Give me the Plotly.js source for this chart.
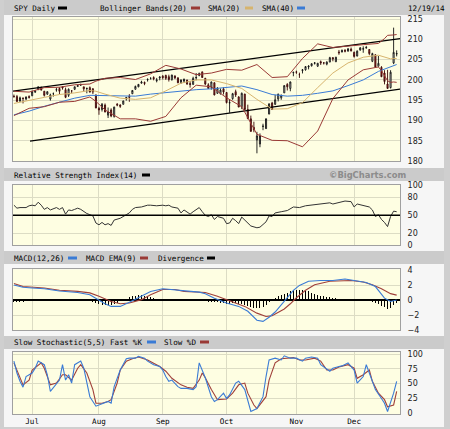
<!DOCTYPE html>
<html>
<head>
<meta charset="utf-8">
<script src="https://cdn.plot.ly/plotly-3.0.1.min.js"></script>
<style>
  html, body { margin: 0; padding: 0; background: #f6f6f6; }
  #chart { width: 450px; height: 429px; }
</style>
</head>
<body>
<div id="chart"></div>
<script>
// ---------- Data (SPY daily, 23 Jun 2014 - 19 Dec 2014; trading-day index 0..126) ----------
const monthIdx   = [6, 28, 49, 70, 93, 112];
const monthNames = ['Jul', 'Aug', 'Sep', 'Oct', 'Nov', 'Dec'];

const open = [196.0,195.9,194.8,195.5,195.3,195.9,196.1,197.0,197.6,198.2,197.2,196.5,195.3,196.6,197.5,197.9,198.3,197.6,196.2,197.3,
  197.7,198.4,198.8,198.3,197.9,198.1,197.8,196.3,193.0,192.7,193.8,191.3,192.6,191.0,194.0,193.8,194.0,195.3,196.0,196.6,
  197.7,198.3,199.2,199.4,200.0,200.3,200.6,199.8,200.5,200.9,201.1,200.8,200.1,201.0,200.5,199.4,199.7,200.0,199.1,198.9,
  200.5,201.1,202.0,200.4,198.8,198.2,199.3,196.7,196.6,197.8,196.9,194.3,195.4,197.1,195.8,193.4,196.5,192.7,190.4,188.3,
  185.2,184.2,188.5,188.0,191.6,194.3,194.0,195.3,195.6,196.8,198.9,197.9,201.8,202.0,201.3,202.3,202.5,203.2,203.5,204.1,
  203.4,204.5,204.2,203.9,204.4,205.5,204.5,206.9,206.9,207.3,207.1,207.6,206.8,205.9,207.4,207.6,207.9,207.5,204.6,206.2,
  203.4,203.1,201.7,199.0,198.1,204.2,206.4];
const high = [196.4,196.3,195.9,195.7,195.9,196.2,197.4,197.5,198.4,198.3,197.3,197.2,196.6,196.9,198.1,198.2,198.4,198.1,197.9,197.5,
  198.4,198.8,199.1,198.3,198.1,198.4,198.0,196.4,193.4,194.3,194.2,193.2,193.0,193.4,194.3,194.0,194.9,195.8,196.5,197.5,
  198.6,199.0,199.8,199.6,200.4,200.7,200.9,200.5,200.9,201.2,201.3,201.3,201.3,201.1,200.7,200.1,200.3,200.0,199.7,200.8,
  201.7,201.8,202.0,200.5,199.2,199.6,199.4,198.2,197.9,198.2,197.0,195.1,196.8,197.6,196.0,196.9,196.6,193.9,191.2,189.7,
  187.2,186.8,189.2,190.5,194.2,194.6,196.3,196.6,196.4,198.7,199.2,199.6,201.9,202.3,201.8,202.7,203.4,203.6,204.1,204.4,
  204.2,204.8,204.4,204.6,205.7,205.6,205.7,207.4,207.5,207.6,207.8,208.0,207.0,207.3,208.1,208.3,208.4,207.6,206.7,206.3,
  205.9,203.4,202.4,202.5,202.4,212.9,207.3];
const low = [195.6,194.6,194.6,194.2,195.0,195.4,196.0,196.8,197.5,197.4,195.9,196.3,194.9,195.9,197.1,196.5,197.6,195.5,195.8,196.7,
  197.5,198.3,198.5,197.2,196.7,196.9,196.5,193.0,191.4,192.2,192.0,190.6,190.8,190.7,193.5,193.1,193.9,194.9,194.6,196.5,
  197.6,198.2,199.1,198.7,199.6,200.2,199.9,199.4,199.9,200.1,200.0,199.6,199.8,200.2,199.2,199.0,199.3,198.8,198.1,198.8,
  199.9,200.9,200.5,198.7,197.8,197.6,196.2,196.6,196.4,196.4,194.2,191.9,195.1,195.8,193.3,192.8,192.6,190.3,187.3,187.1,
  181.9,183.4,187.6,187.9,191.5,192.7,193.8,194.7,195.1,196.8,197.4,197.2,200.9,201.5,200.5,201.6,202.3,202.6,203.3,203.8,
  203.2,203.7,203.8,203.6,204.4,204.6,204.4,206.2,206.8,206.8,207.0,207.0,205.5,205.8,207.2,206.7,207.7,206.1,204.4,203.0,
  203.3,200.7,198.9,197.9,197.9,203.9,205.8];
const close = [195.9,194.7,195.6,195.4,195.8,195.7,197.1,197.2,198.3,197.5,196.2,197.1,196.3,196.6,197.6,197.2,198.0,195.7,197.7,197.3,
  198.3,198.6,198.8,197.8,197.9,197.0,197.0,193.1,192.6,194.0,192.1,192.1,191.1,193.3,193.8,193.5,194.8,195.7,195.7,197.4,
  198.4,198.9,199.5,199.1,200.1,200.3,200.3,200.0,200.7,200.6,200.4,200.1,201.2,200.5,199.3,200.0,200.2,199.0,198.9,200.4,
  200.6,201.6,200.6,199.0,197.9,199.5,196.3,198.0,197.5,197.0,194.4,194.4,196.6,196.3,193.3,196.7,192.7,190.5,187.3,187.7,
  186.2,186.2,188.6,190.4,194.1,192.7,195.1,196.5,196.2,198.6,198.3,199.5,201.9,201.9,201.3,202.5,203.3,203.4,204.0,204.2,
  204.1,204.2,204.2,204.4,205.5,205.2,205.6,206.7,207.3,207.1,207.7,207.2,205.8,207.1,207.9,207.7,208.0,206.5,206.5,203.2,
  204.1,200.8,199.6,197.9,201.9,206.8,206.5];

// Bollinger Bands(20) and SMA(20), read at sample days
const bbDays  = [0,5,10,15,20,25,27,30,35,40,45,50,55,60,65,70,75,80,85,90,95,100,105,110,115,120,121,122,123,124,125,126];
const bbUpper = [197.2,197.0,198.1,198.2,198.8,199.0,199.7,200.4,200.6,200.1,201.5,203.6,202.7,201.3,201.7,202.6,202.4,203.8,200.6,200.8,205.3,208.9,208.0,208.4,208.7,209.0,209.5,210.2,211.0,211.0,211.1,211.2];
const bbLower = [191.2,193.0,193.4,194.5,194.7,195.8,194.7,192.6,190.4,190.4,189.8,191.0,195.6,198.7,198.3,195.6,193.4,186.6,185.1,185.0,183.5,187.4,195.4,200.0,202.5,203.2,202.3,201.2,199.8,199.4,199.5,199.4];
const sma20   = [194.2,195.0,195.7,196.4,196.8,197.4,197.2,196.5,195.5,195.2,195.6,197.3,199.2,200.0,200.0,199.1,197.9,195.2,192.8,192.9,194.4,198.1,201.7,204.2,205.6,206.1,205.9,205.7,205.4,205.2,205.3,205.3];

// SMA(40)
const sma40Days = [0,5,10,15,20,25,30,35,40,45,50,55,60,65,70,75,80,85,90,95,100,105,110,115,120,125,126];
const sma40     = [191.4,192.3,193.5,194.5,195.5,196.2,196.1,196.0,196.0,196.5,196.9,197.3,197.6,197.8,198.2,198.5,197.6,196.4,196.0,196.2,196.7,197.3,198.6,200.0,202.1,203.5,203.8];

// Trend lines (start/end day, price)
const trendUpperDays = [-0.3, 127.5];
const trendUpper     = [197.25, 210.25];
const trendLowerDays = [5.3, 127.5];
const trendLower     = [184.9, 197.8];

// RSI(14)
const rsiDays = [0,1,2,4,5,6,7,8,9,10,11,12,14,15,16,17,18,19,20,21,22,23,24,25,26,27,28,29,30,31,32,33,35,37,38,39,40,42,44,45,47,49,50,51,52,54,55,56,57,58,59,60,61,62,63,64,65,66,67,69,70,71,72,73,74,75,77,78,80,81,83,84,85,86,88,90,92,94,96,98,100,102,104,105,107,109,111,112,113,115,117,118,119,120,121,122,123,124,125,126];
const rsi     = [67,62,63,63,66,67,66,72,67,60,63,59,63,60,63,52,59,58,60,62,60,56,53,51,49,37,34,38,34,36,33,42,45,51,54,60,63,64,67,67,66,67,66,67,64,62,54,59,56,52,56,60,63,56,50,48,51,43,48,45,36,37,45,41,36,47,37,32,29,30,39,49,48,54,56,58,64,63,66,67,68,69,71,69,72,74,73,64,69,67,64,59,48,51,43,38,31,48,57,56];
const rsiMid  = 50;

// MACD(12,26), EMA(9) signal, divergence (daily)
const macdDays = [0,3,6,10,15,21,25,28,30,32,35,38,42,45,49,52,55,58,61,63,66,70,74,77,80,82,84,86,88,90,92,94,97,101,105,109,112,116,119,122,124,126];
const macd     = [2.0,1.7,1.6,1.5,1.2,1.0,0.7,0.0,-0.5,-0.85,-0.85,-0.3,0.5,1.15,1.5,1.4,1.2,1.1,1.05,0.85,0.25,-0.4,-0.85,-1.5,-2.7,-2.85,-2.3,-1.6,-0.6,0.4,1.3,1.95,2.5,2.6,2.6,2.8,2.6,2.35,1.8,0.25,-0.2,0.0];
const sigDays  = [0,3,10,15,21,25,28,32,35,38,42,45,49,53,56,60,63,67,72,76,80,83,85,87,89,91,93,96,99,104,108,111,115,118,121,124,126];
const signal   = [2.2,1.8,1.6,1.3,1.15,0.95,0.5,-0.2,-0.5,-0.4,0.05,0.7,1.4,1.4,1.15,1.05,1.0,0.5,-0.2,-0.85,-1.75,-2.2,-2.1,-1.7,-1.2,-0.5,0.3,1.3,2.05,2.5,2.6,2.6,2.4,2.05,1.5,0.85,0.65];
const divergence = [-0.25,-0.22,-0.2,-0.2,-0.18,-0.15,-0.1,-0.08,-0.05,-0.08,-0.1,-0.1,-0.12,-0.1,-0.08,-0.1,-0.05,-0.12,-0.1,-0.1,
  -0.08,-0.05,-0.05,-0.1,-0.12,-0.15,-0.25,-0.45,-0.55,-0.6,-0.7,-0.65,-0.65,-0.5,-0.35,-0.15,0.05,0.2,0.35,0.5,
  0.6,0.65,0.62,0.55,0.5,0.4,0.3,0.2,0.12,0.08,0.04,-0.02,0.02,-0.05,-0.1,-0.12,-0.1,-0.15,-0.15,-0.1,
  -0.08,-0.02,-0.08,-0.15,-0.2,-0.22,-0.3,-0.32,-0.35,-0.4,-0.5,-0.5,-0.45,-0.45,-0.55,-0.5,-0.6,-0.75,-0.95,-1.05,
  -1.1,-1.05,-0.9,-0.6,-0.2,0.1,0.3,0.5,0.7,0.85,1.0,1.15,1.3,1.4,1.35,1.3,1.25,1.15,1.0,0.85,
  0.72,0.6,0.5,0.4,0.35,0.28,0.22,0.18,0.15,0.1,0.08,0.04,-0.08,-0.06,-0.04,-0.06,-0.08,-0.15,-0.25,-0.45,
  -0.55,-0.75,-0.95,-1.25,-1.05,-0.6,-0.4];

// Slow Stochastic(5,5)
const kDays = [0,1,2,3,4,6,7,8,10,11,12,14,15,16,17,18,19,20,22,23,24,25,27,28,29,31,32,33,35,37,38,40,41,43,44,46,48,49,50,51,52,54,55,57,59,60,61,62,63,65,66,67,69,70,71,73,74,76,77,78,80,82,83,84,86,88,89,91,93,95,96,98,100,101,104,105,107,108,110,112,113,115,116,117,119,121,122,123,124,125,126];
const fastK = [88,68,54,44,62,68,76,88,82,65,37,51,56,82,56,65,51,82,88,76,51,28,12,14,17,20,17,45,73,92,93,93,96,93,88,82,79,73,62,54,56,45,42,42,40,45,85,73,60,28,20,23,34,25,31,51,54,40,23,3,8,28,62,90,93,90,97,93,93,88,93,95,93,82,71,76,79,80,85,73,51,62,82,68,40,25,17,3,17,34,54];
const dDays = [0,2,3,5,6,9,10,12,14,16,17,19,21,22,24,26,27,29,31,32,34,35,37,39,41,44,46,48,50,52,55,57,59,61,62,63,65,67,70,72,74,76,77,79,80,83,84,86,88,90,92,94,96,99,101,103,105,107,110,112,113,115,117,118,120,122,123,125,126];
const slowD = [85,62,48,56,73,85,76,48,51,65,65,56,76,82,68,40,17,17,20,23,51,73,88,92,95,90,85,79,71,59,48,44,42,56,68,60,40,23,24,34,48,51,34,14,8,28,56,85,92,93,94,90,90,93,88,73,73,78,82,76,59,65,73,54,34,23,11,14,37];

// ---------- Layout helpers (pixel -> paper) ----------
const W = 450, H = 429;
const px = v => v / W;
const py = v => 1 - v / H;

const GRID = '#dcdcc4';
const FRAME = '#a0a0a0';
const CREAM = '#fefee2';
const MONO = 'DejaVu Sans Mono';
const TICKFONT = { family: 'DejaVu Sans', size: 8, color: '#222' };

const xDom = [px(13), px(400)];
const xBase = {
  domain: xDom, range: [-0.3, 127.1], tickvals: monthIdx, ticktext: monthNames,
  showgrid: true, gridcolor: GRID, gridwidth: 1, zeroline: false,
  showline: true, mirror: true, linecolor: FRAME, linewidth: 1,
  ticks: '', showticklabels: false, fixedrange: true
};
const yBase = {
  side: 'right', showgrid: true, gridcolor: GRID, gridwidth: 1, zeroline: false,
  showline: true, mirror: true, linecolor: FRAME, linewidth: 1, ticks: '',
  tickfont: TICKFONT, ticklabelstandoff: 5, fixedrange: true
};

const days = close.map((_, i) => i);

const traces = [
  // main panel
  { type: 'scatter', mode: 'lines', x: trendUpperDays, y: trendUpper, xaxis: 'x', yaxis: 'y', line: { color: '#000', width: 1.2 } },
  { type: 'scatter', mode: 'lines', x: trendLowerDays, y: trendLower, xaxis: 'x', yaxis: 'y', line: { color: '#000', width: 1.2 } },
  { type: 'scatter', mode: 'lines', x: sma40Days, y: sma40, xaxis: 'x', yaxis: 'y', line: { color: '#3a7bd5', width: 1 } },
  { type: 'scatter', mode: 'lines', x: bbDays, y: sma20, xaxis: 'x', yaxis: 'y', line: { color: '#d6b46e', width: 1 } },
  { type: 'scatter', mode: 'lines', x: bbDays, y: bbUpper, xaxis: 'x', yaxis: 'y', line: { color: '#9a3a36', width: 1 } },
  { type: 'scatter', mode: 'lines', x: bbDays, y: bbLower, xaxis: 'x', yaxis: 'y', line: { color: '#9a3a36', width: 1 } },
  { type: 'candlestick', x: days, open: open, high: high, low: low, close: close, xaxis: 'x', yaxis: 'y',
    whiskerwidth: 0,
    increasing: { line: { color: '#111', width: 0.9 }, fillcolor: '#ffffff' },
    decreasing: { line: { color: '#3a0a0a', width: 0.9 }, fillcolor: '#b82222' } },
  // RSI
  { type: 'scatter', mode: 'lines', x: rsiDays, y: rsi, xaxis: 'x2', yaxis: 'y2', line: { color: '#333', width: 1 } },
  // MACD
  { type: 'bar', x: days, y: divergence, xaxis: 'x3', yaxis: 'y3', width: 0.33, marker: { color: '#000', line: { width: 0 } } },
  { type: 'scatter', mode: 'lines', x: sigDays, y: signal, xaxis: 'x3', yaxis: 'y3', line: { color: '#a0403a', width: 1.1 } },
  { type: 'scatter', mode: 'lines', x: macdDays, y: macd, xaxis: 'x3', yaxis: 'y3', line: { color: '#3a7bd5', width: 1.1 } },
  // Stochastic
  { type: 'scatter', mode: 'lines', x: dDays, y: slowD, xaxis: 'x4', yaxis: 'y4', line: { color: '#a0403a', width: 1.1 } },
  { type: 'scatter', mode: 'lines', x: kDays, y: fastK, xaxis: 'x4', yaxis: 'y4', line: { color: '#3a7bd5', width: 1.1 } }
];

function band(y0, y1, color) {
  return { type: 'rect', xref: 'paper', yref: 'paper', x0: px(4), x1: px(444), y0: py(y1), y1: py(y0), fillcolor: color, line: { width: 0 }, layer: 'below' };
}
function rect(x0, x1, y0, y1, color) {
  return { type: 'rect', xref: 'paper', yref: 'paper', x0: px(x0), x1: px(x1), y0: py(y1), y1: py(y0), fillcolor: color, line: { width: 0 }, layer: 'below' };
}
function key(x0, x1, y, color) {
  return { type: 'line', xref: 'paper', yref: 'paper', x0: px(x0), x1: px(x1), y0: py(y), y1: py(y), line: { color: color, width: 3 } };
}
function label(text, x, y, opts) {
  return Object.assign({ text: text, xref: 'paper', yref: 'paper', x: px(x), y: py(y), xanchor: 'left', yanchor: 'middle',
    showarrow: false, borderpad: 0, font: { family: MONO, size: 7.6, color: '#000' } }, opts || {});
}

const shapes = [
  rect(0, 4, 0, 429, '#cfcfcf'),
  rect(444, 450, 0, 429, '#cfcfcf'),
  rect(0, 450, 427, 429, '#cfcfcf'),
  band(0, 15, '#cbcbcb'),
  band(168, 181, '#cbcbcb'),
  band(251, 264, '#cbcbcb'),
  band(336, 349, '#cbcbcb'),
  // RSI 50 reference line
  { type: 'line', xref: 'x2', yref: 'y2', x0: -0.3, x1: 127.1, y0: rsiMid, y1: rsiMid, line: { color: '#000', width: 1.4 } },
  // legend keys
  key(58, 67, 8, '#000'), key(191, 200, 8, '#9a3a36'), key(245, 253, 8, '#d6b46e'), key(297, 305, 8, '#3a7bd5'),
  key(142, 150, 175, '#000'),
  key(68, 77, 258, '#3a7bd5'), key(140, 148, 258, '#9a3a36'), key(207, 215, 258, '#000'),
  key(147, 156, 342, '#3a7bd5'), key(200, 209, 342, '#9a3a36')
];

const annotations = [
  label('SPY Daily', 13, 8), label('Bollinger Bands(20)', 99, 8), label('SMA(20)', 207, 8), label('SMA(40)', 261, 8),
  label('12/19/14', 407, 8),
  label('Relative Strength Index(14)', 13, 175),
  label('©BigCharts.com', 328, 175, { font: { family: 'DejaVu Sans', size: 8.4, color: '#8c8c8c', weight: 'bold' } }),
  label('MACD(12,26)', 13, 258), label('MACD EMA(9)', 85, 258), label('Divergence', 157, 258),
  label('Slow Stochastic(5,5) Fast %K', 13, 342), label('Slow %D', 163, 342)
];

const layout = {
  width: W, height: H,
  margin: { l: 0, r: 0, t: 0, b: 0, pad: 0 },
  paper_bgcolor: '#f6f6f6',
  plot_bgcolor: CREAM,
  showlegend: false,
  bargap: 0,
  boxgap: 0.5,
  xaxis:  Object.assign({}, xBase, { anchor: 'y', rangeslider: { visible: false } }),
  xaxis2: Object.assign({}, xBase, { anchor: 'y2', matches: 'x' }),
  xaxis3: Object.assign({}, xBase, { anchor: 'y3', matches: 'x' }),
  xaxis4: Object.assign({}, xBase, { anchor: 'y4', matches: 'x', showticklabels: true,
    tickfont: { family: MONO, size: 7.6, color: '#000' } }),
  yaxis:  Object.assign({}, yBase, { anchor: 'x', domain: [py(161), py(16.7)], range: [180, 215.6],
    tickvals: [180, 185, 190, 195, 200, 205, 210, 215] }),
  yaxis2: Object.assign({}, yBase, { anchor: 'x2', domain: [py(245), py(185)], range: [0, 101],
    tickvals: [0, 20, 50, 80, 100] }),
  yaxis3: Object.assign({}, yBase, { anchor: 'x3', domain: [py(330), py(269.3)], range: [-4, 4.1],
    tickvals: [-4, -2, 0, 2, 4], zeroline: true, zerolinecolor: '#000', zerolinewidth: 1.4 }),
  yaxis4: Object.assign({}, yBase, { anchor: 'x4', domain: [py(414), py(352.3)], range: [-1.2, 102.9],
    tickvals: [0, 25, 50, 75, 100] }),
  shapes: shapes,
  annotations: annotations
};

Plotly.newPlot('chart', traces, layout, { staticPlot: true, displayModeBar: false });
</script>
</body>
</html>
